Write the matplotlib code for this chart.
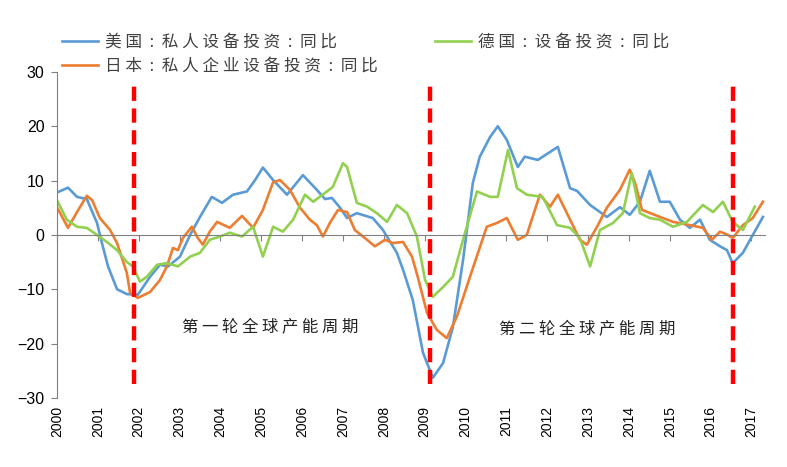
import numpy as np
import matplotlib
matplotlib.use('Agg')
import matplotlib.pyplot as plt

# data (offset in years from 2000, yoy %)
us_t = [0.00, 0.27, 0.49, 0.73, 0.98, 1.10, 1.25, 1.47, 1.71, 1.98, 2.28, 2.52, 2.72, 3.01,
        3.26, 3.50, 3.79, 4.04, 4.31, 4.65, 4.85, 5.04, 5.29, 5.63, 6.02, 6.36, 6.56, 6.73,
        6.93, 7.10, 7.34, 7.73, 7.98, 8.32, 8.47, 8.71, 8.96, 9.20, 9.45, 9.69, 9.94, 10.18,
        10.35, 10.60, 10.79, 11.01, 11.28, 11.45, 11.77, 12.26, 12.56, 12.73, 13.05, 13.46,
        13.78, 14.02, 14.27, 14.51, 14.76, 15.00, 15.25, 15.49, 15.74, 15.98, 16.23, 16.40,
        16.54, 16.79, 17.01, 17.28]
us_v = [7.8, 8.7, 7.0, 6.6, 2.2, -1.5, -5.8, -10.0, -10.9, -11.0, -7.7, -5.5, -5.8, -4.0,
        0.0, 3.3, 7.0, 5.9, 7.4, 8.0, 10.1, 12.4, 10.1, 7.4, 11.0, 8.3, 6.6, 6.8,
        5.0, 3.1, 4.0, 3.1, 0.9, -3.3, -6.4, -12.0, -21.7, -26.3, -23.6, -17.0, -4.6, 9.6,
        14.4, 18.0, 20.0, 17.5, 12.5, 14.4, 13.8, 16.2, 8.6, 8.1, 5.5, 3.3,
        5.1, 3.7, 6.1, 11.8, 6.1, 6.1, 2.8, 1.3, 2.8, -0.9, -2.1, -2.8,
        -5.2, -3.3, -0.3, 3.3]

jp_t = [0.00, 0.27, 0.49, 0.73, 0.86, 1.05, 1.30, 1.47, 1.71, 1.79, 1.98, 2.28, 2.52, 2.69,
        2.84, 2.96, 3.08, 3.30, 3.45, 3.57, 3.74, 3.92, 4.23, 4.53, 4.80, 5.04, 5.29, 5.46,
        5.70, 5.95, 6.19, 6.36, 6.51, 6.68, 6.88, 7.10, 7.29, 7.59, 7.78, 8.03, 8.22, 8.47,
        8.69, 8.83, 9.06, 9.30, 9.54, 9.79, 10.11, 10.52, 10.77, 11.01, 11.28, 11.50, 11.82,
        12.07, 12.26, 12.56, 12.80, 12.97, 13.22, 13.46, 13.78, 14.02, 14.15, 14.32, 14.76,
        15.08, 15.49, 15.81, 16.03, 16.23, 16.42, 16.54, 16.79, 17.03, 17.28]
jp_v = [5.1, 1.3, 4.2, 7.2, 6.4, 3.1, 0.9, -1.5, -7.0, -10.7, -11.6, -10.5, -8.3, -5.8,
        -2.4, -2.8, -0.6, 1.5, -0.6, -1.8, 0.6, 2.4, 1.3, 3.5, 1.3, 4.6, 9.7, 10.1,
        8.3, 5.0, 2.8, 1.8, -0.3, 2.2, 4.6, 4.2, 0.9, -0.9, -2.1, -0.9, -1.5, -1.3,
        -4.0, -7.7, -14.4, -17.5, -19.0, -15.0, -7.7, 1.5, 2.2, 3.1, -0.9, 0.0, 7.4,
        5.2, 7.4, 2.8, -0.9, -1.8, 1.5, 5.0, 8.3, 12.0, 9.6, 4.6, 3.3,
        2.4, 1.8, 1.3, -0.9, 0.6, 0.0, -0.6, 1.8, 3.1, 6.1]

de_t = [0.00, 0.24, 0.49, 0.73, 0.98, 1.22, 1.47, 1.71, 1.86, 2.03, 2.20, 2.45, 2.69, 2.96,
        3.26, 3.50, 3.74, 3.99, 4.23, 4.53, 4.80, 5.04, 5.29, 5.53, 5.78, 6.07, 6.27, 6.75,
        7.00, 7.10, 7.34, 7.59, 7.83, 8.08, 8.32, 8.57, 8.81, 9.01, 9.20, 9.45, 9.69, 9.94,
        10.28, 10.60, 10.79, 11.04, 11.26, 11.50, 11.89, 12.24, 12.56, 12.80, 13.05, 13.29,
        13.61, 13.85, 14.07, 14.27, 14.51, 14.76, 15.08, 15.42, 15.81, 16.06, 16.30, 16.54,
        16.79, 17.08]
de_v = [6.4, 2.8, 1.5, 1.3, 0.0, -1.3, -2.8, -5.0, -5.8, -8.6, -7.7, -5.5, -5.2, -5.8,
        -4.0, -3.3, -0.9, -0.3, 0.4, -0.3, 1.5, -4.0, 1.5, 0.6, 2.8, 7.4, 6.1, 8.8,
        13.2, 12.5, 5.9, 5.2, 4.0, 2.4, 5.5, 4.0, -0.3, -8.3, -11.4, -9.6, -7.7, -0.9,
        8.0, 7.0, 7.0, 15.6, 8.6, 7.4, 7.0, 1.8, 1.3, -0.6, -5.8, 0.9,
        2.2, 4.0, 11.4, 4.0, 3.1, 2.8, 1.5, 2.4, 5.5, 4.2, 6.1, 2.4,
        0.9, 5.2]

years = list(range(2000, 2018))
cycle_marks = [2001.88, 2009.13, 2016.54]
labels = ['美国:私人设备投资:同比', '日本:私人企业设备投资:同比', '德国:设备投资:同比']
cycle_text = ['第一轮全球产能周期', '第二轮全球产能周期']
cycle_text_pos = [(2005.21, -17.1), (2012.97, -17.5)]

cjk = ['Noto Sans CJK SC', 'DejaVu Sans']
num_font = 'Liberation Sans'

def spaced(s):
    # loose letter spacing like the original chart
    return ' '.join(list(s)).replace(':', ' : ')

fig = plt.figure(figsize=(7.87, 4.67), dpi=100)
ax = fig.add_axes([0.0724, 0.148, 0.8996, 0.698])

l_us, = ax.plot(2000 + np.array(us_t), us_v, color='#5B9BD5', lw=1.9)
l_jp, = ax.plot(2000 + np.array(jp_t), jp_v, color='#ED7D31', lw=1.9)
l_de, = ax.plot(2000 + np.array(de_t), de_v, color='#92D050', lw=1.9)

ax.vlines(cycle_marks, -27.5, 27.5, colors='#FF0000', lw=3.2, linestyles=(0, (3.2, 1.7)), zorder=5)

for txt, (x, y) in zip(cycle_text, cycle_text_pos):
    ax.text(x, y, spaced(txt), ha='center', va='center', fontsize=11.8, family=cjk, color='#222222')

ax.set_xlim(2000, 2017.33)
ax.set_ylim(-30, 30)
ax.set_yticks(range(-30, 31, 10))
ax.tick_params(axis='y', direction='out', length=4, color='#808080', labelsize=11.5, pad=5)
for lb in ax.get_yticklabels():
    lb.set_family(num_font)

ax.spines['top'].set_visible(False)
ax.spines['right'].set_visible(False)
ax.spines['left'].set_color('#808080')
ax.spines['bottom'].set_position(('data', 0))
ax.spines['bottom'].set_color('#808080')
ax.set_xticks(years)
ax.tick_params(axis='x', direction='out', length=4, color='#808080', labelbottom=False)

sec = ax.secondary_xaxis('bottom')
sec.spines['bottom'].set_visible(False)
sec.set_xticks(years)
sec.set_xticklabels([str(y) for y in years], rotation=90, family=num_font, fontsize=10)
sec.tick_params(length=0, pad=6)

ax.legend([l_us, l_jp, l_de], [spaced(s) for s in labels], ncol=2, frameon=False,
          loc='upper left', bbox_to_anchor=(62 / 787, 1 - 34 / 467), bbox_transform=fig.transFigure,
          prop={'family': cjk, 'size': 12}, labelcolor='#404040',
          handlelength=2.15, handletextpad=0.45, columnspacing=3.4,
          borderpad=0, borderaxespad=0, labelspacing=0.42)

plt.savefig('out.png', dpi=100)
